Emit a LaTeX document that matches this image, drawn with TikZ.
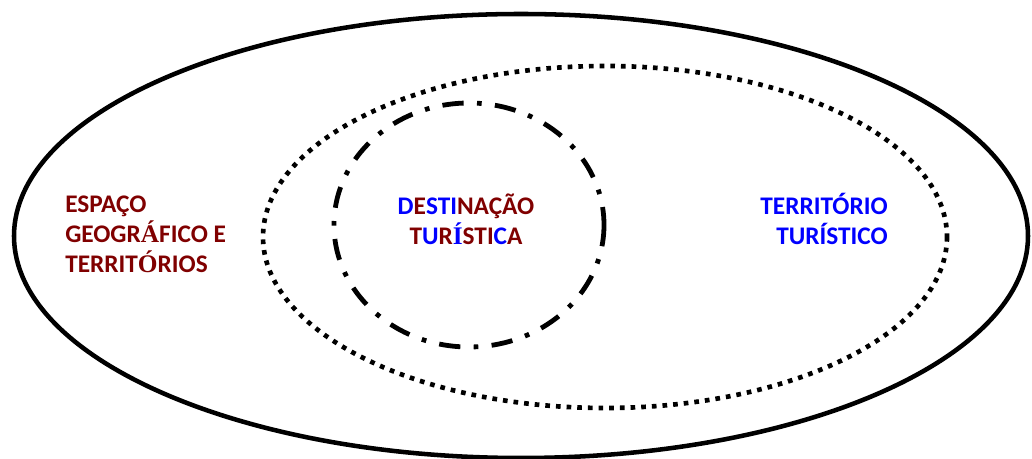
\documentclass[tikz,border=0pt]{standalone}
\usepackage{fontspec}
\setmainfont{Carlito}
\newfontfamily\accfont{Liberation Serif}
\definecolor{setred}{HTML}{800000}
\definecolor{setblue}{HTML}{0000FF}
\newcommand{\inred}[1]{\textcolor{setred}{#1}}
\newcommand{\inblue}[1]{\textcolor{setblue}{#1}}
\newcommand{\accl}[1]{{\accfont\bfseries #1}}
\tikzset{
  spaceset/.style={line width=3.4pt},
  tourset/.style={line width=3.5pt,dash pattern=on 3.5pt off 4.5pt},
  destset/.style={line width=3.6pt,dash pattern=on 16pt off 10pt on 3.5pt off 10pt},
  setlabel/.style={font=\bfseries\fontsize{19}{22.5}\selectfont,inner sep=0pt}
}
\begin{document}
\begin{tikzpicture}[x=0.75pt,y=-0.75pt]
  \useasboundingbox (0,0) rectangle (1032,459);
  % the three sets
  \draw[spaceset] (521,236) ellipse [x radius=507,y radius=222];
  \draw[tourset] (605,237) ellipse [x radius=342,y radius=171];
  \draw[destset] (469,225) ellipse [x radius=135,y radius=122];
  % labels
  \node[setlabel,align=left,anchor=base west,text=setred] (espaco) at (65,273)
    {ESPAÇO\\GEOGR\accl{Á}FICO E\\TERRIT\accl{Ó}RIOS};
  \node[setlabel,align=center,anchor=base] (destino) at (466,245)
    {\inblue{D}\inred{E}\inblue{STI}\inred{NAÇÃO}\\
     \inred{T}\inblue{U}\inred{R}\inblue{\accl{Í}}\inred{STI}\inblue{C}\inred{A}};
  \node[setlabel,align=right,anchor=base east,text=setblue] (territorio) at (888,245)
    {TERRITÓRIO\\TURÍSTICO};
\end{tikzpicture}
\end{document}
